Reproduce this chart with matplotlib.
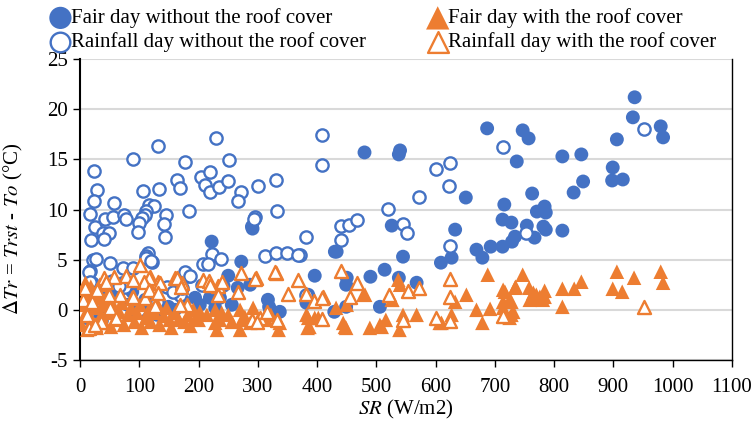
import matplotlib.pyplot as plt

plt.rcParams['font.family'] = ['Liberation Serif', 'DejaVu Serif']
plt.rcParams['mathtext.fontset'] = 'stix'
plt.rcParams['font.size'] = 15
plt.rcParams['axes.unicode_minus'] = False

BLUE = '#4472C4'
ORANGE = '#ED7D31'

# Fair day, no roof cover (filled circles)
fair_open_x = [936, 933, 980, 984, 906, 814, 846, 899, 898, 916, 849, 833, 784, 771, 786, 782, 786, 814,
               687, 747, 757, 480, 540, 538, 737, 763, 651, 716, 713, 728, 754, 767, 526, 633, 734, 729,
               713, 693, 669, 679, 627, 609, 545, 433, 396, 450, 449, 490, 514, 538, 568, 385, 382, 506, 449,
               222, 272, 250, 290, 291, 266, 287, 242, 194, 219, 236, 256, 317, 319, 337, 321, 149, 228, 202,
               67, 59, 73, 429, 430, 45, 55, 35, 20, 10, 5, 80, 95, 120, 130, 160, 175, 110, 30, 15, 88]
fair_open_y = [21.2, 19.2, 18.3, 17.2, 17.0, 15.3, 15.5, 14.2, 12.9, 13.0, 12.8, 11.7, 10.3, 9.8, 9.7, 8.3, 8.0, 7.9,
               18.1, 17.9, 17.1, 15.7, 15.9, 15.5, 14.8, 11.6, 11.2, 10.5, 9.0, 8.7, 8.4, 7.2, 8.4, 8.0, 7.3, 6.8,
               6.3, 6.3, 6.0, 5.2, 5.2, 4.7, 5.3, 5.8, 3.4, 3.2, 2.5, 3.3, 4.0, 3.2, 2.7, 1.5, 0.7, 0.3, 0.3,
               6.8, 4.8, 3.4, 8.3, 8.1, 2.2, 2.5, 2.4, 1.2, 1.2, 1.2, 0.5, 1.0, 0.3, -0.2, -0.1, 0.3, 0.2, 0.5,
               2.0, 1.5, 2.7, -0.2, 5.8, 1.5, 0.8, -0.5, 0.5, -0.8, 0.2, 0.5, -0.3, 0.2, -0.5, 0.0, 0.8, 1.0, 2.2, 1.2, 1.8]

# Rainfall day, no roof cover (open circles)
rain_open_x = [409, 408, 713, 601, 625, 623, 572, 520, 545, 552, 440, 454, 468, 440, 381, 371, 624, 753, 951,
               132, 89, 24, 177, 204, 210, 163, 169, 29, 106, 133, 24, 58, 116, 125, 112, 110, 104, 100, 97,
               184, 145, 142, 143, 16, 25, 42, 56, 74, 78, 39, 48, 41, 18, 115, 111, 121,
               230, 251, 220, 219, 235, 250, 271, 267, 301, 331, 333, 296, 294, 222, 312, 331, 350, 367,
               22, 16, 20, 51, 73, 90, 76, 183, 208, 216, 237, 169, 166, 146, 26, 15, 17, 112, 120, 177, 186,
               53, 66, 157, 172, 205, 382, 10, 30, 45, 60, 85, 100, 130, 5, 35, 20]
rain_open_y = [17.4, 14.4, 16.2, 14.0, 14.6, 12.4, 11.3, 10.1, 8.6, 7.7, 8.4, 8.5, 9.0, 7.0, 7.3, 5.5, 6.4, 7.7, 18.0,
               16.3, 15.0, 13.8, 14.7, 13.2, 12.5, 12.9, 12.2, 12.0, 11.9, 12.1, 10.9, 10.7, 10.5, 10.4, 9.9, 9.5, 9.2, 8.7, 7.8,
               9.9, 9.5, 8.6, 7.3, 9.6, 8.3, 9.1, 9.3, 9.5, 9.1, 7.7, 7.7, 7.1, 7.0, 5.7, 5.4, 4.8,
               17.1, 14.9, 13.7, 11.8, 12.3, 12.8, 11.8, 10.9, 12.4, 12.9, 9.9, 9.3, 9.1, 5.6, 5.4, 5.7, 5.7, 5.5,
               5.0, 3.9, 2.7, 4.7, 4.2, 4.2, 2.3, 3.4, 4.6, 4.6, 5.1, 1.5, 2.7, 2.3, 5.1, 3.8, 2.8, 5.2, 4.9, 3.8, 3.4,
               2.9, 2.4, 1.8, 2.2, 2.5, 1.5, 0.5, 1.0, 0.3, 0.8, 0.5, 0.0, 0.8, -0.5, -1.0, -1.2]

# Fair day, with roof cover (filled triangles)
fair_cover_x = [906, 980, 984, 935, 899, 915, 846, 834, 814, 784, 784, 814,
                688, 747, 537, 540, 481, 527, 652, 717, 725, 714, 758, 765, 776, 768, 735, 450, 432,
                382, 396, 387, 444, 449, 489, 509, 516, 539, 545, 568, 607, 627, 669, 679, 692, 731, 725,
                759, 770, 781, 714, 734, 728, 714, 728, 633, 610, 506, 447, 478, 526,
                202, 214, 228, 239, 250, 270, 278, 292, 200, 228, 236, 256, 273, 287, 315, 337, 385, 402,
                231, 270, 335, 384, 322,
                2, 5, 8, 10, 12, 15, 18, 20, 22, 25, 28, 30, 33, 36, 38, 41, 46, 48, 52, 57, 61, 66, 70,
                74, 81, 86, 92, 96, 101, 104, 111, 116, 119, 126, 131, 134, 141, 146, 151, 154, 161, 166,
                171, 176, 182, 186, 191, 196, 14, 22, 9, 27]
fair_cover_y = [3.8, 3.8, 2.7, 3.2, 2.1, 1.8, 2.8, 2.1, 2.1, 1.9, 1.3, 0.3,
                3.5, 3.5, 3.0, 2.5, 1.5, 1.0, 1.5, 1.8, 1.0, 0.8, 2.2, 1.7, 1.3, 1.1, 2.3, 0.5, 0.2,
                -0.5, -0.8, -1.7, -1.3, -1.8, -1.8, -1.7, -1.0, -2.0, -0.5, -0.5, -1.3, -0.5, 0.0, -1.3, 0.1, -0.2, -0.8,
                1.0, 1.5, 1.0, 2.0, 2.2, 0.8, 0.2, -0.5, 0.8, -1.3, -1.5, -1.7, 1.5, 1.0,
                -0.2, -0.5, 0.0, -0.3, -0.5, 0.0, -0.7, 0.2, -1.0, -1.3, -1.0, -1.2, -1.0, -1.3, -1.0, -1.3, -0.8, -0.8,
                -2.0, -2.0, -2.0, -1.8, -0.5,
                -1.5, 0.5, -0.5, 1.5, -2.0, 0.8, 2.3, -1.0, 1.8, 0.2, -1.8, 1.2, 2.5, -0.5, 0.5, -1.3, 1.0, -0.3, -1.7, 0.3, -1.0, -0.2, 0.7,
                -1.5, -0.5, 0.2, -1.2, -0.3, 0.5, -1.8, -0.8, 0.0, -1.2, -0.3, 0.5, -1.5, -0.6, 0.2, -1.0, -1.8, -0.3, -1.0,
                0.4, -1.2, -0.5, -1.6, 0.0, -0.8, 2.0, 1.4, 2.7, 1.6]

# Rainfall day, with roof cover (open triangles)
rain_cover_x = [951, 440, 467, 381, 410, 455, 521, 553, 572, 624, 624, 409, 600, 624, 714, 545,
                101, 41, 58, 77, 118, 132, 160, 172, 45, 67, 87, 110, 116, 107, 117, 44, 89, 48, 134,
                132, 90, 127, 163, 170, 208, 218, 233, 239, 272, 267, 297, 331, 351, 367, 395, 332, 304,
                180, 169, 329, 295, 219, 233, 408, 315, 290, 298,
                5, 12, 20, 28, 35, 15, 50, 60, 8, 25]
rain_cover_y = [0.3, 3.9, 2.7, 1.6, 1.3, 1.3, 1.5, 1.9, 2.2, 3.1, 1.3, -0.9, -0.8, -1.1, -0.6, -1.0,
                4.5, 3.2, 3.3, 3.4, 3.3, 2.8, 3.2, 2.7, 1.4, 1.5, 1.2, 1.2, 3.2, 2.8, 2.0, 2.8, 3.0, 1.5, 2.7,
                1.7, 1.3, 0.4, 3.2, 2.3, 3.0, 2.9, 2.4, 2.8, 3.7, 1.8, 3.2, 3.7, 1.6, 3.0, 0.9, -1.0, -0.8,
                0.5, 0.5, 3.8, 3.1, 2.5, 1.5, 1.2, -0.2, -1.0, -1.2,
                1.0, -0.5, 0.8, 2.0, -1.2, -1.8, 0.2, -0.8, 2.2, -1.5]

x_ticks = [0, 100, 200, 300, 400, 500, 600, 700, 800, 900, 1000, 1100]
y_ticks = [-5, 0, 5, 10, 15, 20, 25]

fig = plt.figure(figsize=(7.56, 4.29), dpi=100)
ax = fig.add_axes([0.106, 0.161, 0.862, 0.701])

h1 = ax.scatter(fair_open_x, fair_open_y, s=100, marker='o', color=BLUE, edgecolors='none',
                label='Fair day without the roof cover', zorder=3)
h2 = ax.scatter(rain_open_x, rain_open_y, s=78, marker='o', facecolors='white', edgecolors=BLUE,
                linewidths=1.7, label='Rainfall day without the roof cover', zorder=4)
h3 = ax.scatter(fair_cover_x, fair_cover_y, s=110, marker='^', color=ORANGE, edgecolors='none',
                label='Fair day with the roof cover', zorder=5)
h4 = ax.scatter(rain_cover_x, rain_cover_y, s=88, marker='^', facecolors='white', edgecolors=ORANGE,
                linewidths=1.7, label='Rainfall day with the roof cover', zorder=6)

ax.set_xlim(0, 1100)
ax.set_ylim(-5, 25)
ax.set_xticks(x_ticks)
ax.set_yticks(y_ticks)
ax.grid(axis='y', color='#d9d9d9', linewidth=1.5, zorder=0)
ax.set_axisbelow(True)

ax.spines['top'].set_visible(False)
ax.spines['left'].set_linewidth(1.5)
ax.spines['bottom'].set_linewidth(1.0)
ax.spines['right'].set_linewidth(1.0)
ax.tick_params(axis='both', direction='out', length=5, width=1, pad=8, labelsize=15)
ax.tick_params(axis='y', pad=4)

ax.set_xlabel(r'$\mathit{SR}$ (W/m2)', fontsize=15, labelpad=1)
ax.set_ylabel(r'$\Delta\mathit{Tr}$ = $\mathit{Trst}$ - $\mathit{To}$ (°C)', fontsize=15)
ax.yaxis.set_label_coords(-0.085, 0.435)

fig.legend(handles=[h1, h2, h3, h4], loc='upper left', bbox_to_anchor=(0.062, 0.99), ncol=2,
           frameon=False, markerscale=1.6, handlelength=0.9, handletextpad=0.05,
           columnspacing=3.0, labelspacing=0.2, fontsize=15, borderpad=0.1, borderaxespad=0.1)

fig.savefig('out.png', dpi=100)
